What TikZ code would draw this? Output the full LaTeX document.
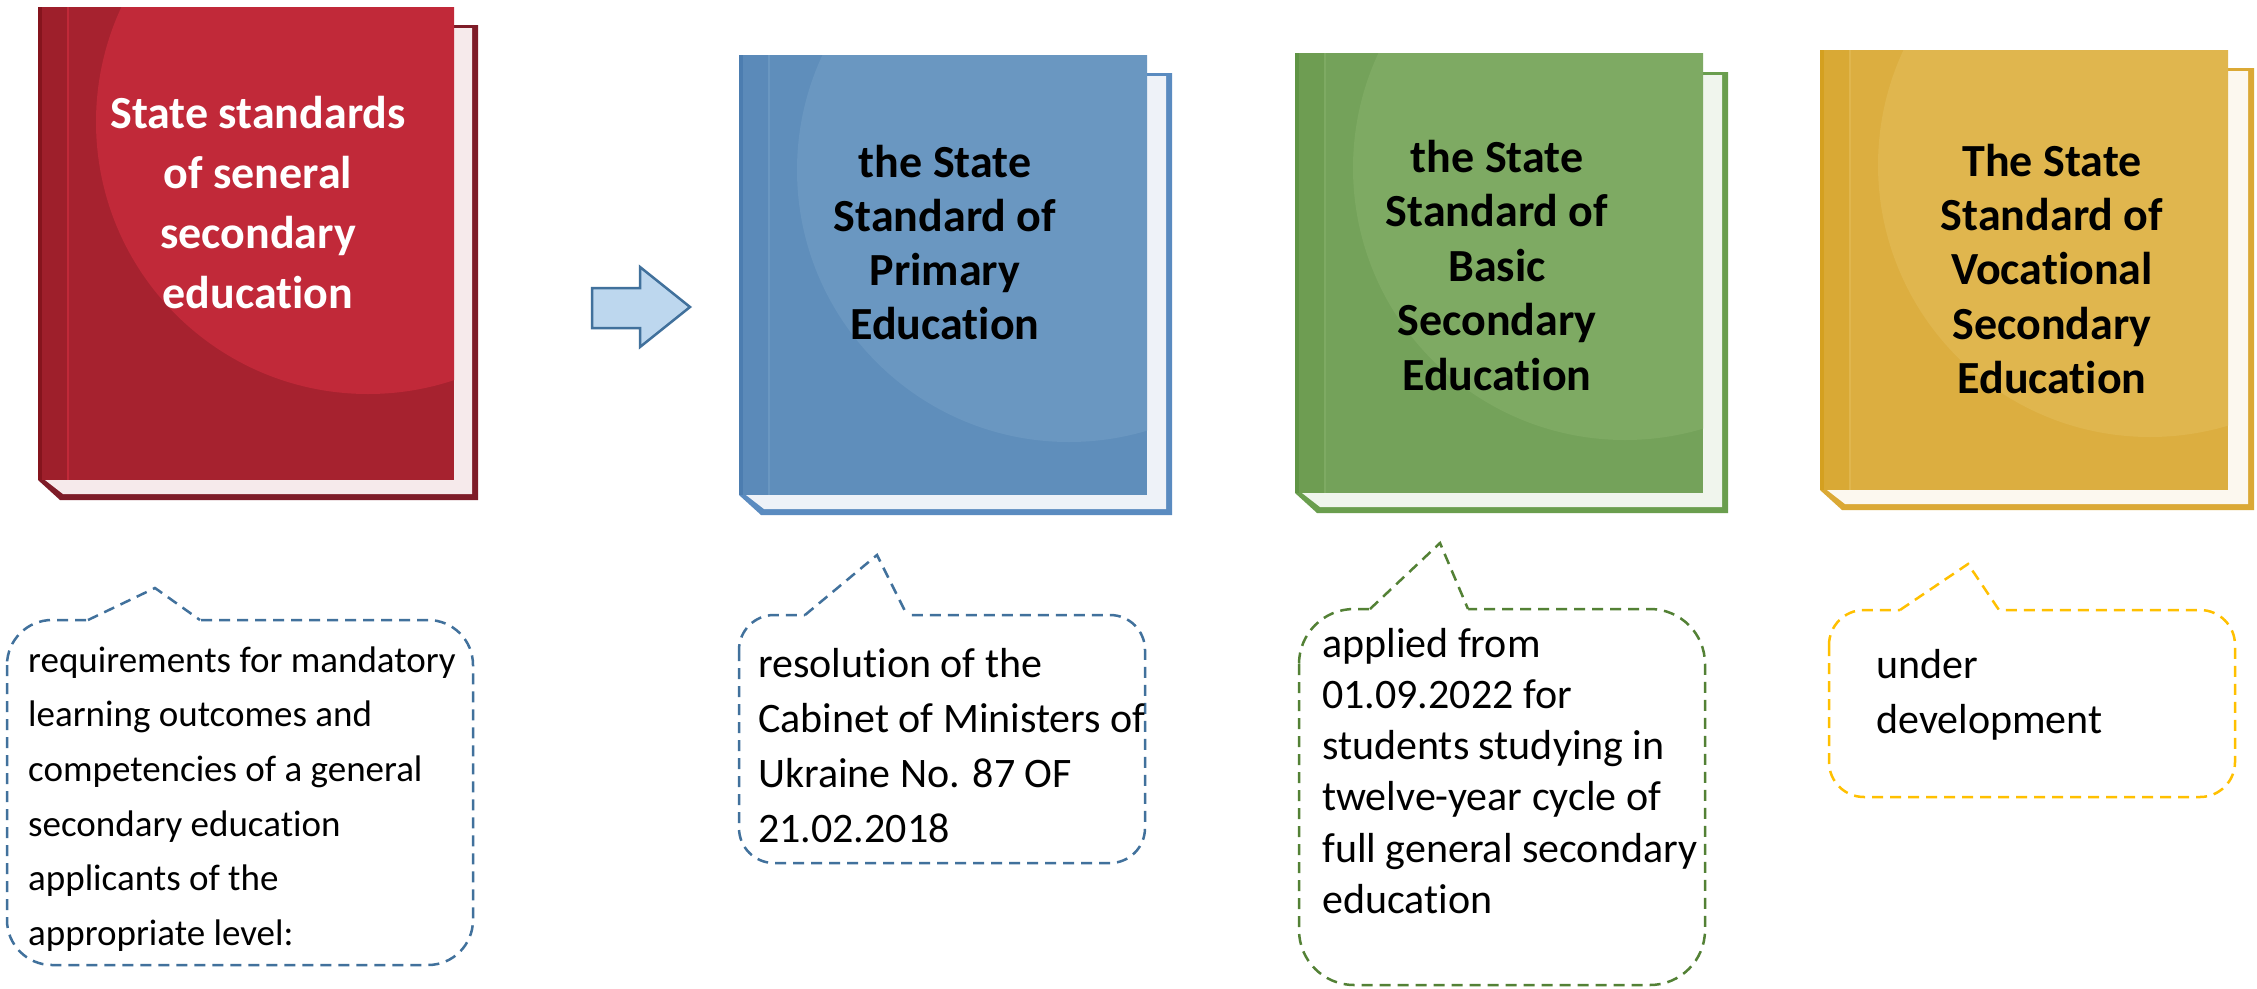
\documentclass[tikz,border=0pt]{standalone}
\usepackage{fontspec}
\setmainfont{Carlito}[Ligatures=NoCommon]
\definecolor{redbase}{HTML}{A6222F}
\definecolor{redhl}{HTML}{C12939}
\definecolor{redspine}{HTML}{9E1F2B}
\definecolor{rededge}{HTML}{85141D}
\definecolor{redback}{HTML}{7E1C28}
\definecolor{redpage}{HTML}{F6EAEB}
\definecolor{bluebase}{HTML}{5F8EBB}
\definecolor{bluehl}{HTML}{6A97C1}
\definecolor{bluespine}{HTML}{5B8AB9}
\definecolor{blueedge}{HTML}{4C7DB0}
\definecolor{blueback}{HTML}{5A8BC0}
\definecolor{bluepage}{HTML}{EEF2F8}
\definecolor{grnbase}{HTML}{74A25A}
\definecolor{grnhl}{HTML}{7EAA63}
\definecolor{grnspine}{HTML}{6E9D52}
\definecolor{grnedge}{HTML}{5F9444}
\definecolor{grnback}{HTML}{6A9E4E}
\definecolor{grnpage}{HTML}{F0F5ED}
\definecolor{yelbase}{HTML}{DCAE40}
\definecolor{yelhl}{HTML}{E0B64E}
\definecolor{yelspine}{HTML}{D9A935}
\definecolor{yeledge}{HTML}{D4A020}
\definecolor{yelback}{HTML}{DBA935}
\definecolor{yelpage}{HTML}{FCF8EF}
\definecolor{cblue}{HTML}{41719C}
\definecolor{cgreen}{HTML}{538135}
\definecolor{cyellow}{HTML}{FFC000}
\definecolor{arrowfill}{HTML}{BDD7EE}
\newcommand\mybook[7]{%
  \fill[#7back] (#1,#4) -- (#1+22,#4+20) -- (#5,#4+20) -- (#5,#6) -- (#3,#6) -- (#3,#4) -- cycle;
  \fill[#7page] (#1+7,#4) -- (#1+25,#4+14) -- (#5-6,#4+14) -- (#5-6,#6+3) -- (#3,#6+3) -- (#3,#4) -- cycle;
  \fill[#7base] (#1,#2) rectangle (#3,#4);
  \begin{scope}
    \clip (#1,#2) rectangle (#3,#4);
    \fill[#7hl] (#1+330,#2+115) circle[radius=272];
  \end{scope}
  \fill[#7spine] (#1,#2) rectangle (#1+29,#4);
  \fill[#7edge] (#1,#2) rectangle (#1+4,#4);
  \draw[#7hl, line width=1.5pt] (#1+30,#2) -- (#1+30,#4);
}
\newcommand\mycallout[9]{%
  \draw[callout, rounded corners=#5] (#1,#2) rectangle (#3,#4);
  \fill[white] (#6,#2+4) -- (#6,#2-2) -- (#8,#9) -- (#7,#2-2) -- (#7,#2+4) -- cycle;
  \draw[callout] (#6,#2) -- (#8,#9) -- (#7,#2);
}
\begin{document}
\begin{tikzpicture}[x=1pt,y=-1pt,
  callout/.style={line width=2.5pt, dash pattern=on 11pt off 7pt},
  title/.style={align=center, inner sep=0pt, anchor=north},
  ctext/.style={align=left, inner sep=0pt, anchor=north west},
  arrowshape/.style={fill=arrowfill, draw=cblue, line width=2.5pt, line join=miter}]
\useasboundingbox (0,0) rectangle (2257,988);
\fill[white] (0,0) rectangle (2257,988);

% books
\mybook{38}{7}{454}{480}{478}{25}{red}
\mybook{739}{55}{1147}{495}{1172}{73}{blue}
\mybook{1295}{53}{1703}{493}{1728}{72}{grn}
\mybook{1820}{50}{2228}{490}{2254}{68}{yel}

% titles
\node[title, text=white, font=\bfseries\fontsize{46}{60}\selectfont] (t1) at (258,91)
  {\rule{0pt}{37pt}State standards\\of seneral\\secondary\\education};
\node[title, text=black, font=\bfseries\fontsize{46}{54}\selectfont] (t2) at (945,140)
  {\rule{0pt}{37pt}the State\\Standard of\\Primary\\Education};
\node[title, text=black, font=\bfseries\fontsize{46}{54.5}\selectfont] (t3) at (1497,135)
  {\rule{0pt}{37pt}the State\\Standard of\\Basic\\Secondary\\Education};
\node[title, text=black, font=\bfseries\fontsize{46}{54.3}\selectfont] (t4) at (2052,139)
  {\rule{0pt}{37pt}The State\\Standard of\\Vocational\\Secondary\\Education};

% arrow
\draw[arrowshape] (592,288) -- (640,288) -- (640,267) -- (690,307) -- (640,347) -- (640,328) -- (592,328) -- cycle;

% callouts
\begin{scope}[color=cblue]
\mycallout{7}{620}{473}{965}{45}{88}{200}{155}{588}
\mycallout{739}{615}{1145}{863}{35}{805}{907}{877}{555}
\end{scope}
\begin{scope}[color=cgreen]
\mycallout{1299}{609}{1705}{985}{55}{1370}{1468}{1440}{543}
\end{scope}
\begin{scope}[color=cyellow]
\mycallout{1829}{610}{2235}{797}{35}{1900}{1999}{1968}{564}
\end{scope}

% callout texts
\node[ctext, font=\fontsize{37}{54.6}\selectfont] (c1) at (28,642)
  {\rule{0pt}{30pt}requirements for mandatory\\learning outcomes and\\competencies of a general\\secondary education\\applicants of the\\appropriate level:};
\node[ctext, font=\fontsize{42}{55}\selectfont] (c2) at (758,643)
  {\rule{0pt}{34pt}resolution of the\\Cabinet of Ministers of\\Ukraine No. 87 OF\\21.02.2018};
\node[ctext, font=\fontsize{42}{51.2}\selectfont] (c3) at (1322,623)
  {\rule{0pt}{34pt}applied from\\01.09.2022 for\\students studying in\\twelve-year cycle of\\full general secondary\\education};
\node[ctext, font=\fontsize{42}{55}\selectfont] (c4) at (1876,644)
  {\rule{0pt}{34pt}under\\development};
\end{tikzpicture}
\end{document}
